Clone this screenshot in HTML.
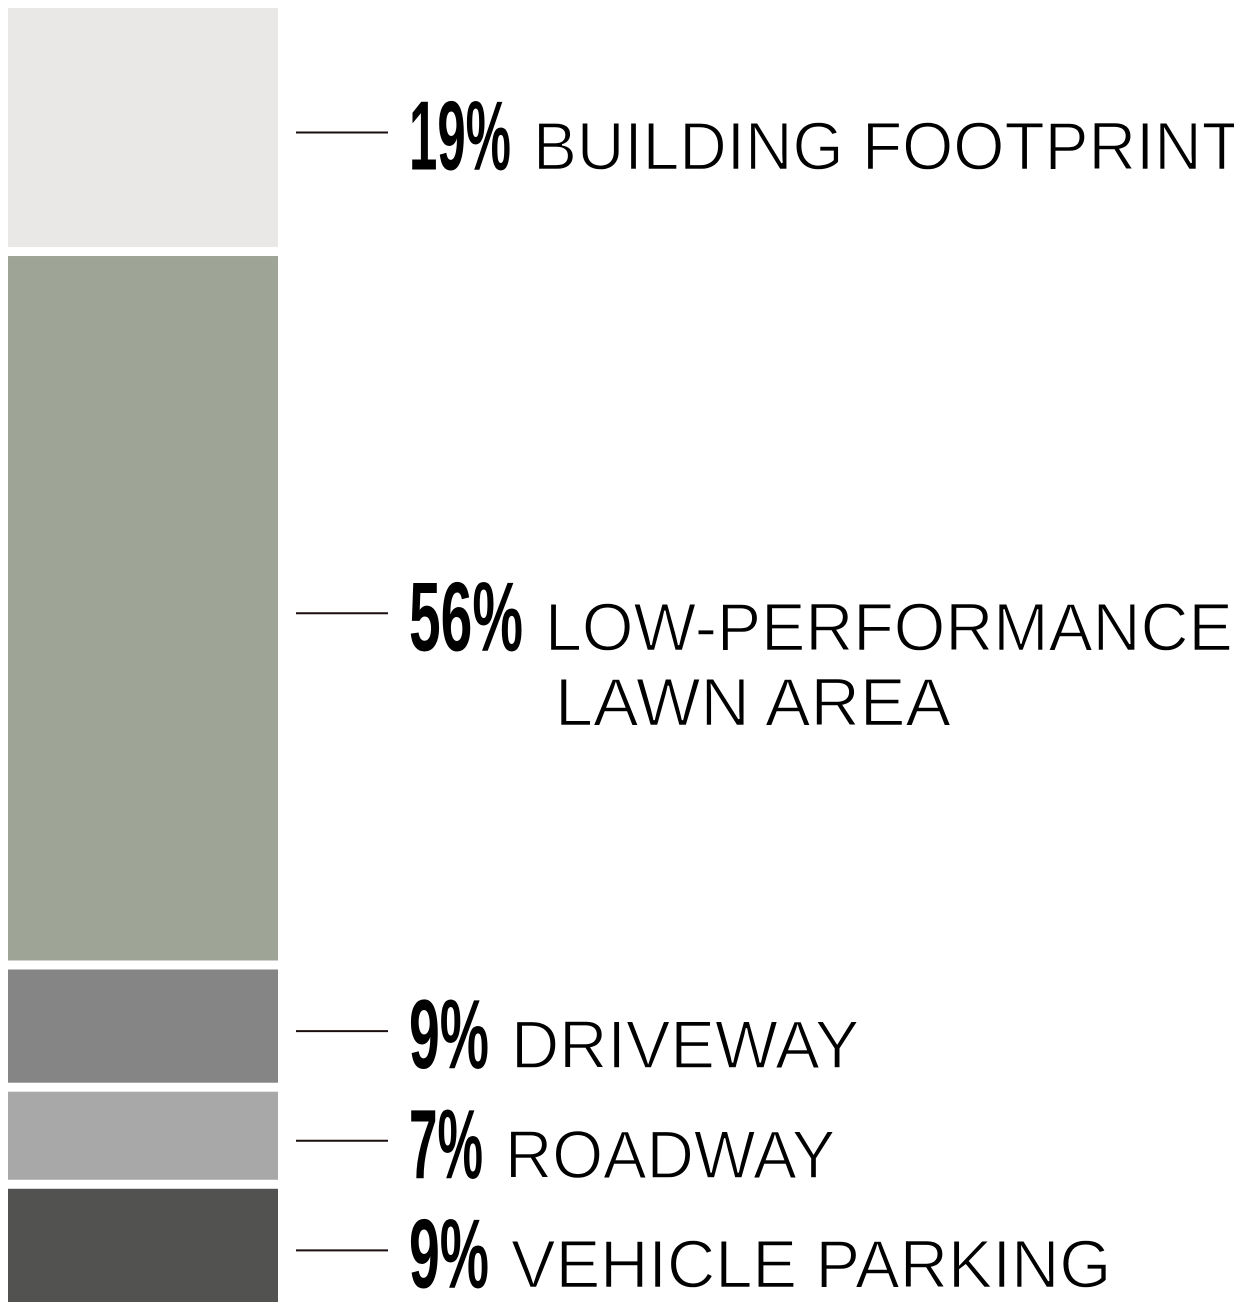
<!DOCTYPE html>
<html><head><meta charset="utf-8"><style>
html,body{margin:0;padding:0;background:#fff;}
svg{display:block;}
</style></head><body>
<svg id="chart" width="1234" height="1311" viewBox="0 0 1234 1311"></svg>
<script>
const categories = ["BUILDING FOOTPRINT", "LOW-PERFORMANCE|LAWN AREA", "DRIVEWAY", "ROADWAY", "VEHICLE PARKING"];
const values = [19, 56, 9, 7, 9];
const colors = ["#e9e8e6", "#9ea597", "#858585", "#a9a8a8", "#525250"];

const NS = "http://www.w3.org/2000/svg";
const svg = document.getElementById("chart");
const top0 = 8, bottom0 = 1302, gap = 9, barX = 8, barW = 270;
const total = values.reduce((a, b) => a + b, 0);
const avail = bottom0 - top0 - gap * (values.length - 1);
function yScale(v) { return v / total * avail; }
function labelWidth(t) {
  let w = 0;
  for (const c of t) w += c === " " ? 18 : c === "-" ? 24 : (c === "I" ? 16 : (c === "M" || c === "W") ? 52 : 40.5);
  return w * 1.12;
}

function mk(tag, attrs, text) {
  const el = document.createElementNS(NS, tag);
  for (const k in attrs) el.setAttribute(k, attrs[k]);
  if (text !== undefined) el.textContent = text;
  svg.appendChild(el);
  return el;
}

let y = top0;
values.forEach((v, i) => {
  const h = yScale(v);
  const rect = mk("rect", { x: barX, y: y, width: barW, height: h, fill: colors[i] });
  
  
  const cy = y + h / 2 + 5;
  const line = mk("line", { x1: 296, x2: 388, y1: cy, y2: cy, stroke: "#1a0e0e", "stroke-width": 2 });
  
  
  const base = cy + 37;
  const pctText = values[i] + "%";
  const pctW = pctText.length === 3 ? (pctText[0] === "1" ? 102 : 114) : (pctText[0] === "7" ? 74 : 80);
  const pct = mk("text", { x: 409, y: base, "font-family": "'Liberation Sans Narrow','Liberation Sans',sans-serif",
    "font-weight": "bold", "font-size": 98, fill: "#000", textLength: pctW, lengthAdjust: "spacingAndGlyphs" }, pctText);
  
  
  const lines = categories[i].split("|");
  const lx = 409 + pctW + 22;
  lines.forEach((t, j) => {
    const tx = mk("text", { x: lx + (j ? 10 : 0), y: base + j * 75, "font-family": "'Liberation Sans',sans-serif",
      "font-size": 68, fill: "#000", stroke: "#fff", "stroke-width": 1.4,
      textLength: labelWidth(t), lengthAdjust: "spacingAndGlyphs" }, t);
    
    
  });
  y += h + gap;
});
</script>
</body></html>
